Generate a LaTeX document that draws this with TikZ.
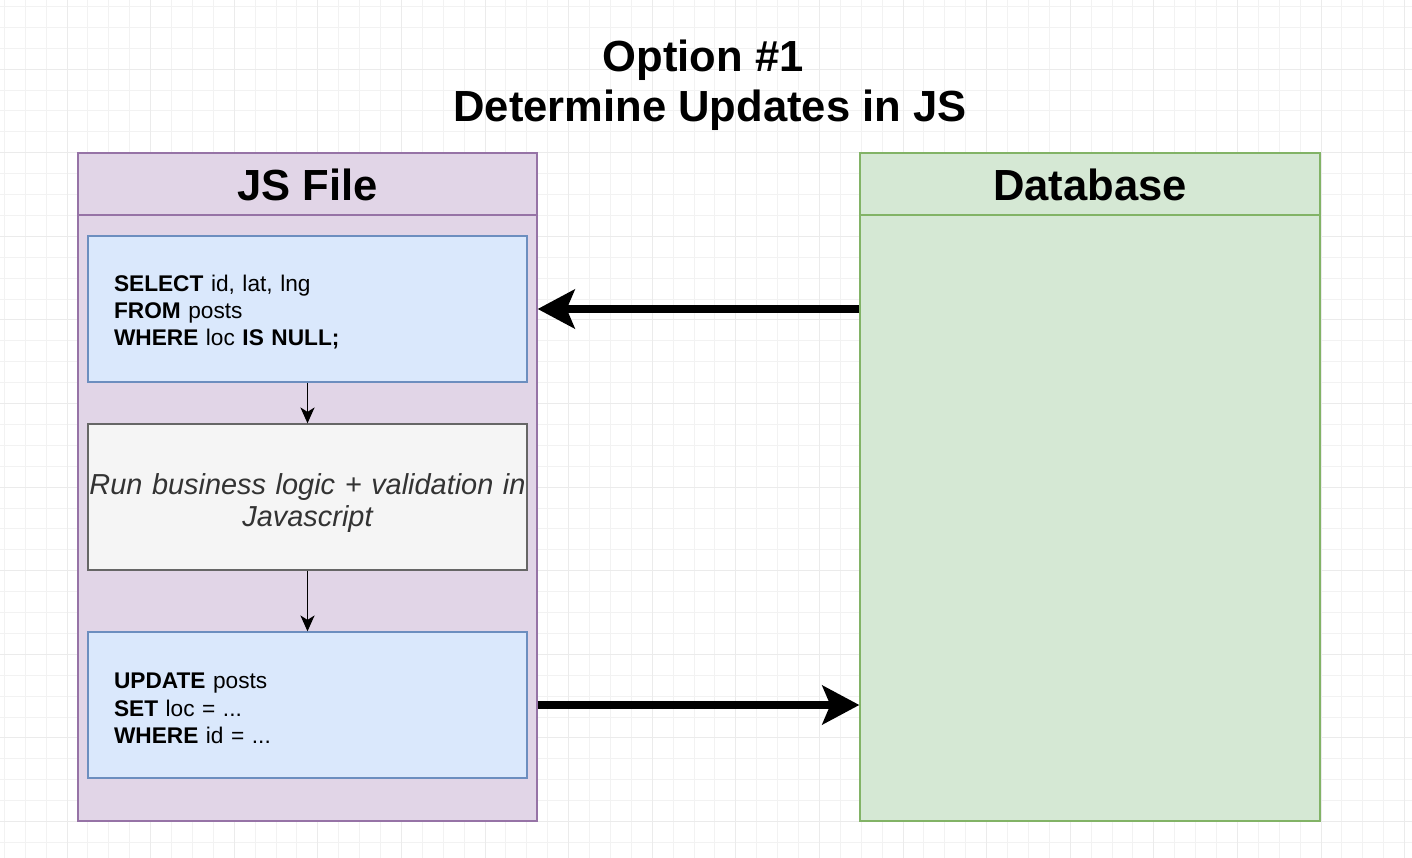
\documentclass[tikz,border=0pt]{standalone}
\usepackage{fontspec}
\setmainfont{Liberation Sans}
\usetikzlibrary{arrows.meta}

\definecolor{jsfill}{HTML}{E1D5E7}
\definecolor{jsline}{HTML}{9673A6}
\definecolor{dbfill}{HTML}{D5E8D4}
\definecolor{dbline}{HTML}{82B366}
\definecolor{sqlfill}{HTML}{DAE8FC}
\definecolor{sqlline}{HTML}{6C8EBF}
\definecolor{logicfill}{HTML}{F5F5F5}
\definecolor{logicline}{HTML}{666666}
\definecolor{logictext}{HTML}{333333}

\tikzset{
  gridminor/.style={draw=black!5, line width=0.5pt},
  gridmajor/.style={draw=black!8, line width=0.5pt},
  lane/.style={line width=0.8pt, minimum width=#1, minimum height=13.36cm, inner sep=0pt},
  lanetitle/.style={anchor=base, font=\fontsize{24.8}{28}\selectfont\bfseries},
  sqlbox/.style={draw=sqlline, fill=sqlfill, line width=0.8pt, minimum width=8.78cm,
    minimum height=2.92cm, text width=7.74cm, inner xsep=0.52cm, inner ysep=0pt,
    align=left, font=\fontsize{12.9}{15.5}\selectfont},
  logicbox/.style={draw=logicline, fill=logicfill, line width=0.8pt, minimum width=8.78cm,
    minimum height=2.92cm, text width=8.78cm, inner sep=0pt, align=center,
    text=logictext, font=\fontsize{16.45}{18.1}\selectfont\itshape},
  thinarrow/.style={line width=1.1pt, -{Stealth[length=9pt, width=8pt, inset=2.5pt]}},
  thickarrow/.style={line width=4.5pt, -{Stealth[length=21pt, width=22pt, inset=4.5pt]}}
}

\begin{document}
\begin{tikzpicture}[x=0.02cm, y=-0.02cm]
  %%%%% BACKGROUND %%%%%
  \fill[white] (0,0) rectangle (1412,858);
  \useasboundingbox (0,0) rectangle (1412,858);
  \foreach \i in {0,...,67} \draw[gridminor] ({4.3+\i*20.9},0) -- ({4.3+\i*20.9},858);
  \foreach \j in {0,...,40} \draw[gridminor] (0,{6.4+\j*20.9}) -- (1412,{6.4+\j*20.9});
  \foreach \i in {0,...,16} \draw[gridmajor] ({67+\i*83.6},0) -- ({67+\i*83.6},858);
  \foreach \j in {0,...,9} \draw[gridmajor] (0,{69.1+\j*83.6}) -- (1412,{69.1+\j*83.6});

  %%%%% TITLE %%%%%
  \node[lanetitle] (title) at (703,72) {Option \#1};
  \node[lanetitle] (subtitle) at (710,122) {Determine Updates in JS};

  %%%%% LANES %%%%%
  \node[lane=9.18cm, draw=jsline, fill=jsfill] (js) at (307.5,487) {};
  \draw[jsline, line width=0.8pt] (js.west |- 0,215) -- (js.east |- 0,215);
  \node[lanetitle] (jstitle) at (307.5,200) {JS File};

  \node[lane=9.2cm, draw=dbline, fill=dbfill] (db) at (1090,487) {};
  \draw[dbline, line width=0.8pt] (db.west |- 0,215) -- (db.east |- 0,215);
  \node[lanetitle] (dbtitle) at (1090,200) {Database};

  %%%%% STEPS %%%%%
  \node[sqlbox] (sel) at (307.5,309) {\rule{0pt}{12.8pt}\textbf{SELECT} id, lat, lng\\
    \textbf{FROM} posts\\
    \textbf{WHERE} loc \textbf{IS NULL;}};
  \node[logicbox] (run) at (307.5,497) {\rule{0pt}{18.8pt}Run business logic + validation in\\Javascript};
  \node[sqlbox] (upd) at (307.5,705) {\rule{0pt}{12.8pt}\textbf{UPDATE} posts\\
    \textbf{SET} loc = ...\\
    \textbf{WHERE} id = ...};

  \draw[thinarrow] (sel.south) -- (run.north);
  \draw[thinarrow] (run.south) -- (upd.north);

  %%%%% DATA FLOW %%%%%
  \draw[thickarrow] (db.west |- sel) -- (js.east |- sel);
  \draw[thickarrow] (js.east |- upd) -- (db.west |- upd);
\end{tikzpicture}
\end{document}
